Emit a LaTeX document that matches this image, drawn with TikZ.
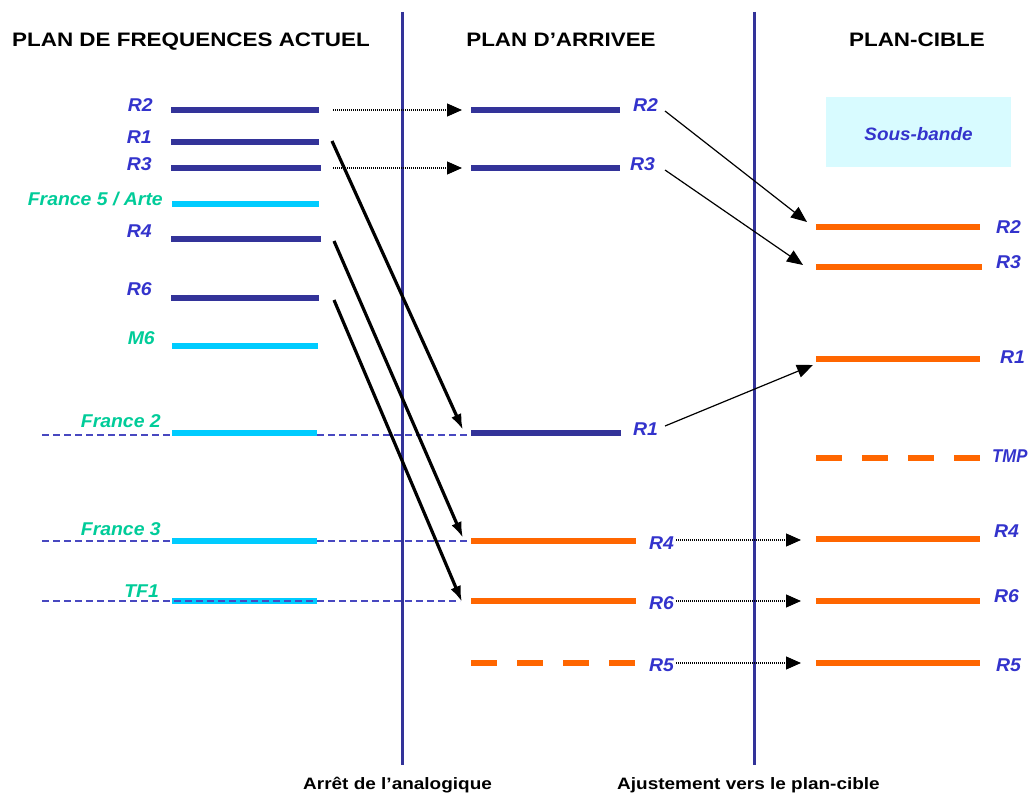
\documentclass[tikz,border=0pt]{standalone}
\usepackage{fontspec}
\setmainfont{Liberation Sans}[FakeStretch=1.15]
\newfontfamily\lblfont{Liberation Sans}[FakeStretch=1.05]
\usetikzlibrary{arrows.meta}
\definecolor{navy}{HTML}{333399}
\definecolor{lblue}{HTML}{3333CC}
\definecolor{cyanbar}{HTML}{00CCFF}
\definecolor{greenlbl}{HTML}{00CC99}
\definecolor{orangebar}{HTML}{FF6600}
\definecolor{boxfill}{HTML}{D8FBFF}
\definecolor{dashblue}{HTML}{4848C0}
\tikzset{
  hdr/.style={font=\fontsize{19.5}{20}\selectfont\bfseries, inner sep=0pt},
  lbl/.style={font=\lblfont\fontsize{18.5}{18.5}\selectfont\bfseries\itshape, text=lblue, inner sep=0pt},
  glbl/.style={lbl, text=greenlbl},
  foot/.style={font=\fontsize{16.5}{17}\selectfont\bfseries, inner sep=0pt},
  navybar/.style={draw=navy, line width=6pt},
  cyanb/.style={draw=cyanbar, line width=6pt},
  orangeb/.style={draw=orangebar, line width=6pt},
  orangedash/.style={orangeb, dash pattern=on 26pt off 20pt},
  divider/.style={draw=navy, line width=3pt},
  guideline/.style={draw=dashblue, line width=1.2pt, dash pattern=on 7pt off 4pt},
  bigarrow/.style={draw=black, line width=3.2pt, -{Latex[length=16pt,width=11pt]}},
  thinarrow/.style={draw=black, line width=1.2pt, -{Triangle[length=16pt,width=13pt]}},
  dotarrow/.style={draw=black, line width=1.1pt, dash pattern=on 1pt off 1pt, -{Triangle[length=15pt,width=13pt]}},
}
\begin{document}
\begin{tikzpicture}[x=1pt,y=-1pt]
\useasboundingbox (0,0) rectangle (1033,794);
\fill[white] (0,0) rectangle (1033,794);

% dividers
\coordinate (d1t) at (402,12); \coordinate (d1b) at (402,765);
\coordinate (d2t) at (754,12); \coordinate (d2b) at (754,765);
\path[divider] (d1t) -- (d1b);
\path[divider] (d2t) -- (d2b);

% headers
\node[hdr, anchor=base west] (h1) at (12,47) {PLAN DE FREQUENCES ACTUEL};
\node[hdr, anchor=base] (h2) at (561,47) {PLAN D’ARRIVEE};
\node[hdr, anchor=base] (h3) at (917,47) {PLAN-CIBLE};

% footers
\node[foot, anchor=base west] (f1) at (303,789) {Arrêt de l’analogique};
\node[foot, anchor=base west] (f2) at (617,789) {Ajustement vers le plan-cible};

% sous-bande box
\node[fill=boxfill, minimum width=185pt, minimum height=70pt, inner sep=0pt] (sb) at (918.5,132) {};
\node[lbl, font=\lblfont\fontsize{18}{18}\selectfont\bfseries\itshape] (sbt) at (918.5,134) {Sous-bande};

% guide dashed lines (France 2, France 3)
\coordinate (g2a) at (42,435); \coordinate (g2b) at (467,435);
\coordinate (g3a) at (42,541); \coordinate (g3b) at (467,541);
\coordinate (g1a) at (42,601); \coordinate (g1b) at (460,601);
\path[guideline] (g2a) -- (g2b);
\path[guideline] (g3a) -- (g3b);

% left column bars
\coordinate (lR2a) at (171,110); \coordinate (lR2b) at (319,110);
\coordinate (lR1a) at (171,142); \coordinate (lR1b) at (319,142);
\coordinate (lR3a) at (171,168); \coordinate (lR3b) at (321,168);
\coordinate (lF5a) at (172,204); \coordinate (lF5b) at (319,204);
\coordinate (lR4a) at (171,239); \coordinate (lR4b) at (321,239);
\coordinate (lR6a) at (171,298); \coordinate (lR6b) at (319,298);
\coordinate (lM6a) at (172,346); \coordinate (lM6b) at (318,346);
\coordinate (lF2a) at (172,433); \coordinate (lF2b) at (317,433);
\coordinate (lF3a) at (172,541); \coordinate (lF3b) at (317,541);
\coordinate (lT1a) at (172,601); \coordinate (lT1b) at (317,601);
\path[navybar] (lR2a) -- (lR2b);
\path[navybar] (lR1a) -- (lR1b);
\path[navybar] (lR3a) -- (lR3b);
\path[cyanb] (lF5a) -- (lF5b);
\path[navybar] (lR4a) -- (lR4b);
\path[navybar] (lR6a) -- (lR6b);
\path[cyanb] (lM6a) -- (lM6b);
\path[cyanb] (lF2a) -- (lF2b);
\path[cyanb] (lF3a) -- (lF3b);
\path[cyanb] (lT1a) -- (lT1b);
\path[guideline] (g1a) -- (g1b);

% left labels
\node[lbl, anchor=base east] (tlR2) at (153,112) {R2};
\node[lbl, anchor=base east] (tlR1) at (152,144) {R1};
\node[lbl, anchor=base east] (tlR3) at (152,171) {R3};
\node[glbl, anchor=base east] (tlF5) at (163,206) {France 5 / Arte};
\node[lbl, anchor=base east] (tlR4) at (152,238) {R4};
\node[lbl, anchor=base east] (tlR6) at (152,295) {R6};
\node[glbl, anchor=base east] (tlM6) at (155,344) {M6};
\node[glbl, anchor=base east] (tlF2) at (161,427) {France 2};
\node[glbl, anchor=base east] (tlF3) at (161,535) {France 3};
\node[glbl, anchor=base east] (tlT1) at (159,597) {TF1};

% middle column bars
\coordinate (mR2a) at (471,110); \coordinate (mR2b) at (620,110);
\coordinate (mR3a) at (471,168); \coordinate (mR3b) at (620,168);
\coordinate (mR1a) at (471,433); \coordinate (mR1b) at (621,433);
\coordinate (mR4a) at (471,541); \coordinate (mR4b) at (636,541);
\coordinate (mR6a) at (471,601); \coordinate (mR6b) at (636,601);
\coordinate (mR5a) at (471,663); \coordinate (mR5b) at (636,663);
\path[navybar] (mR2a) -- (mR2b);
\path[navybar] (mR3a) -- (mR3b);
\path[navybar] (mR1a) -- (mR1b);
\path[orangeb] (mR4a) -- (mR4b);
\path[orangeb] (mR6a) -- (mR6b);
\path[orangedash] (mR5a) -- (mR5b);

% middle labels
\node[lbl, anchor=base west] (tmR2) at (633,112) {R2};
\node[lbl, anchor=base west] (tmR3) at (630,171) {R3};
\node[lbl, anchor=base west] (tmR1) at (633,435) {R1};
\node[lbl, anchor=base west] (tmR4) at (649,549) {R4};
\node[lbl, anchor=base west] (tmR6) at (649,609) {R6};
\node[lbl, anchor=base west] (tmR5) at (649,671) {R5};

% right column bars
\coordinate (rR2a) at (816,227); \coordinate (rR2b) at (980,227);
\coordinate (rR3a) at (816,267); \coordinate (rR3b) at (982,267);
\coordinate (rR1a) at (816,359); \coordinate (rR1b) at (980,359);
\coordinate (rTa) at (816,458); \coordinate (rTb) at (980,458);
\coordinate (rR4a) at (816,539); \coordinate (rR4b) at (980,539);
\coordinate (rR6a) at (816,601); \coordinate (rR6b) at (980,601);
\coordinate (rR5a) at (816,663); \coordinate (rR5b) at (980,663);
\path[orangeb] (rR2a) -- (rR2b);
\path[orangeb] (rR3a) -- (rR3b);
\path[orangeb] (rR1a) -- (rR1b);
\path[orangedash] (rTa) -- (rTb);
\path[orangeb] (rR4a) -- (rR4b);
\path[orangeb] (rR6a) -- (rR6b);
\path[orangeb] (rR5a) -- (rR5b);

% right labels
\node[lbl, anchor=base west] (trR2) at (996,234) {R2};
\node[lbl, anchor=base west] (trR3) at (996,269) {R3};
\node[lbl, anchor=base west] (trR1) at (1000,363) {R1};
\node[lbl, anchor=base west] (trT) at (992,462) {\scalebox{0.86}[1]{TMP}};
\node[lbl, anchor=base west] (trR4) at (994,537) {R4};
\node[lbl, anchor=base west] (trR6) at (994,602) {R6};
\node[lbl, anchor=base west] (trR5) at (996,671) {R5};

% arrow end points
\coordinate (aR1s) at (332,141); \coordinate (aR1e) at (463,430);
\coordinate (aR4s) at (334,241); \coordinate (aR4e) at (463,538);
\coordinate (aR6s) at (334,300); \coordinate (aR6e) at (462,602);
\coordinate (bR2s) at (665,111); \coordinate (bR2e) at (807,222);
\coordinate (bR3s) at (665,170); \coordinate (bR3e) at (803,265);
\coordinate (bR1s) at (665,426); \coordinate (bR1e) at (813,365);
\coordinate (cR2s) at (333,110); \coordinate (cR2e) at (462,110);
\coordinate (cR3s) at (333,168); \coordinate (cR3e) at (462,168);
\coordinate (cR4s) at (676,540); \coordinate (cR4e) at (801,540);
\coordinate (cR6s) at (676,601); \coordinate (cR6e) at (801,601);
\coordinate (cR5s) at (676,663); \coordinate (cR5e) at (801,663);

\path[bigarrow] (aR1s) -- (aR1e);
\path[bigarrow] (aR4s) -- (aR4e);
\path[bigarrow] (aR6s) -- (aR6e);
\path[thinarrow] (bR2s) -- (bR2e);
\path[thinarrow] (bR3s) -- (bR3e);
\path[thinarrow] (bR1s) -- (bR1e);
\path[dotarrow] (cR2s) -- (cR2e);
\path[dotarrow] (cR3s) -- (cR3e);
\path[dotarrow] (cR4s) -- (cR4e);
\path[dotarrow] (cR6s) -- (cR6e);
\path[dotarrow] (cR5s) -- (cR5e);
\end{tikzpicture}
\end{document}
